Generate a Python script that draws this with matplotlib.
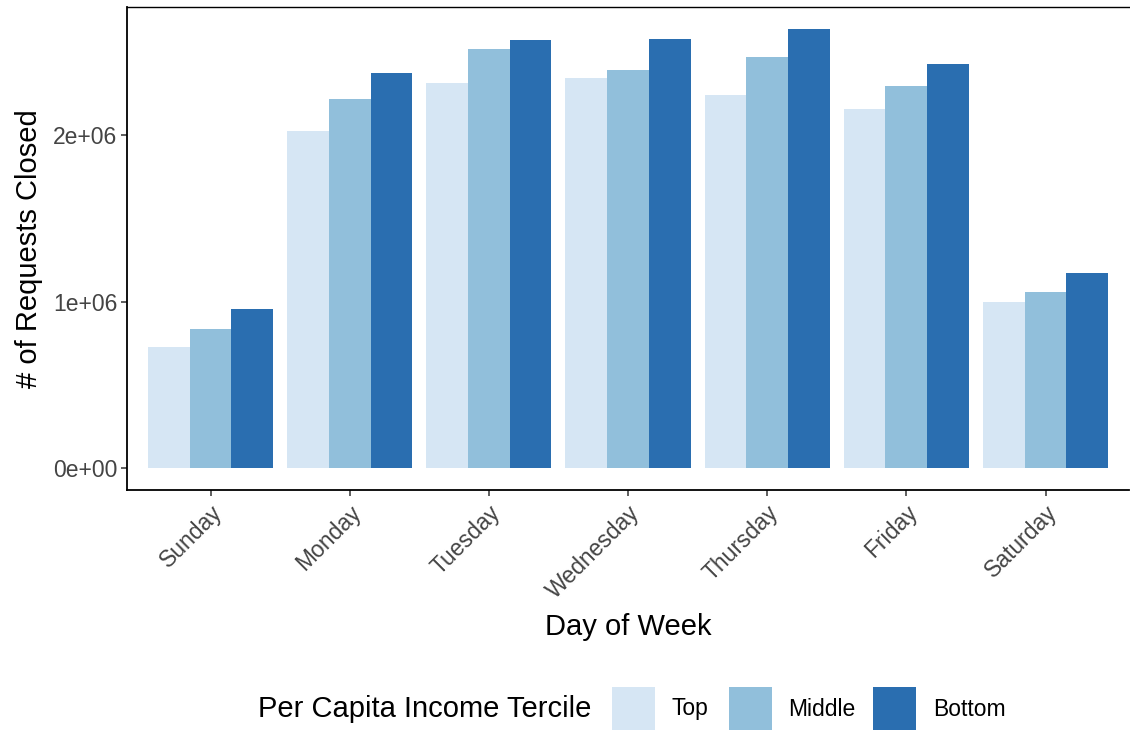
import matplotlib
matplotlib.use("Agg")
import matplotlib.pyplot as plt
from matplotlib.patches import Rectangle
from matplotlib.ticker import FuncFormatter, FixedLocator
import numpy as np

plt.rcParams['font.family'] = ['Liberation Sans', 'DejaVu Sans']

days = ["Sunday", "Monday", "Tuesday", "Wednesday", "Thursday", "Friday", "Saturday"]
terciles = ["Top", "Middle", "Bottom"]
top_vals = [727000, 2023000, 2314000, 2343000, 2241000, 2157000, 999000]
middle_vals = [838000, 2217000, 2517000, 2391000, 2471000, 2299000, 1059000]
bottom_vals = [958000, 2377000, 2571000, 2577000, 2639000, 2431000, 1173000]
colors = ["#d6e6f4", "#91bfdb", "#2a6eb0"]
yticks = [0, 1000000, 2000000]

W, H = 1130, 731
fig = plt.figure(figsize=(W / 100, H / 100), dpi=100)
ax = fig.add_axes([127 / W, 1 - 490 / H, (1129 - 127) / W, (490 - 7) / H])

x = np.arange(1, len(days) + 1)
bw = 0.9 / 3
series = [top_vals, middle_vals, bottom_vals]
for i, (vals, c) in enumerate(zip(series, colors)):
    ax.bar(x + (i - 1) * bw, vals, width=bw, color=c, edgecolor='none', linewidth=0)

ymax = max(max(s) for s in series)
ax.set_ylim(-0.05 * ymax, 1.05 * ymax)
ax.set_xlim(0.4, 7.6)

ax.yaxis.set_major_locator(FixedLocator(yticks))
ax.yaxis.set_major_formatter(FuncFormatter(lambda v, p: f"{v:.0e}"))
ax.set_xticks(x)
ax.set_xticklabels(days, rotation=45, ha='right', va='top', rotation_mode='anchor')

ax.tick_params(axis='both', which='major', length=4, width=1.1, color='#333333',
               labelsize=16.5, labelcolor='#444444', pad=3)
ax.tick_params(axis='x', pad=4)

for s in ['left', 'bottom']:
    ax.spines[s].set_linewidth(1.3)
    ax.spines[s].set_color('black')
ax.spines['top'].set_linewidth(1.0)
ax.spines['top'].set_color('black')
ax.spines['right'].set_visible(False)

ax.set_xlabel("Day of Week", fontsize=21, color='black')
ax.set_ylabel("# of Requests Closed", fontsize=21, color='black')
ax.yaxis.set_label_coords(-(127 - 43) / (1129 - 127), 0.5)
ax.xaxis.set_label_coords(0.5, -(613 - 490) / (490 - 7))

# Legend (bottom, horizontal)
def fx(px):
    return px / W

def fy(py):
    return 1 - py / H

fig.text(fx(258), fy(709), "Per Capita Income Tercile", fontsize=21,
         ha='left', va='center', color='black')
box_left = [612, 729, 873]
label_left = [672, 788, 933]
for lbl, c, bl, tl in zip(terciles, colors, box_left, label_left):
    fig.add_artist(Rectangle((fx(bl), fy(730)), fx(43), 43 / H, transform=fig.transFigure,
                             facecolor=c, edgecolor='none'))
    fig.text(fx(tl), fy(709), lbl, fontsize=16.5, ha='left', va='center', color='black')

fig.savefig("out.png", dpi=100, facecolor='white')
